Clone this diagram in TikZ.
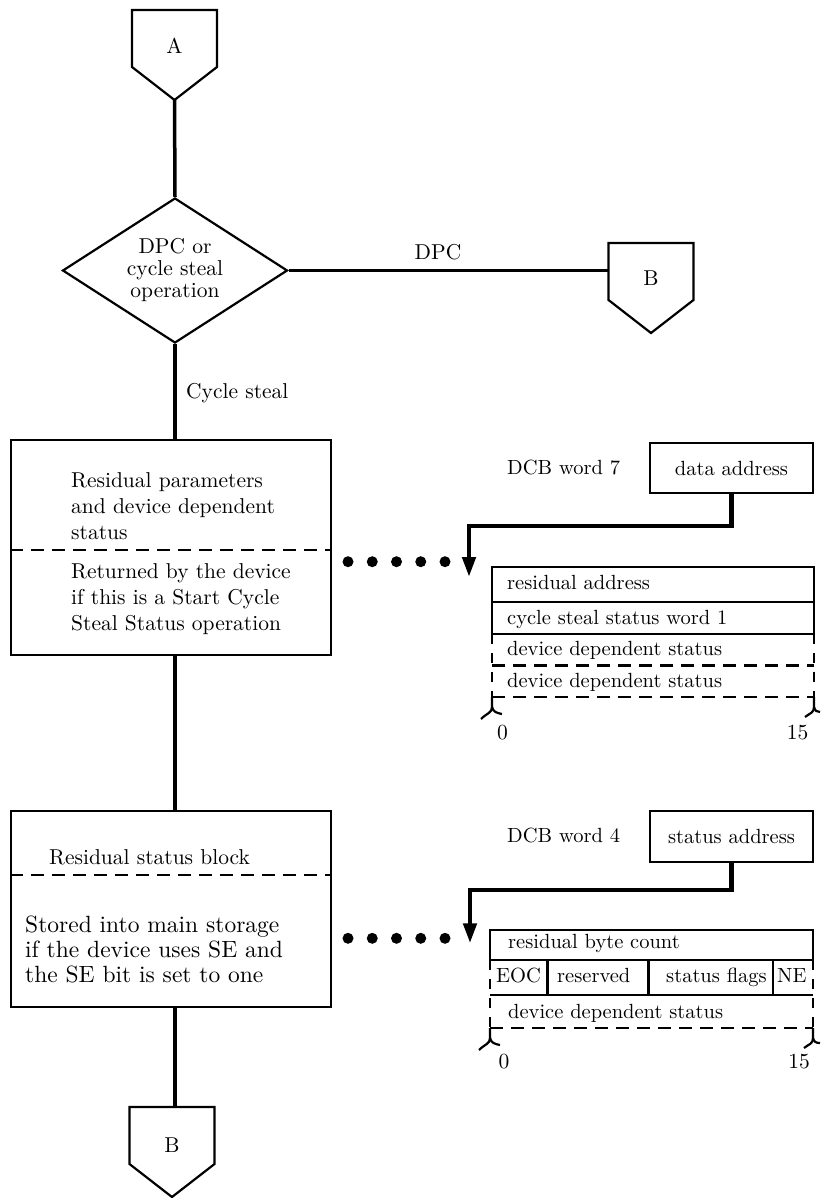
\documentclass[tikz,border=0pt]{standalone}
\usepackage{fontspec}
\setmainfont{lmroman10-regular.otf}
\usetikzlibrary{shapes.geometric,arrows.meta}
\tikzset{
  every node/.style={font=\fontsize{21.5}{25}\selectfont, inner sep=0pt},
  txt/.style={anchor=base west},
  ctxt/.style={anchor=base},
  tbl/.style={anchor=base west, font=\fontsize{20.5}{25}\selectfont},
  big/.style={anchor=base west, font=\fontsize{23.5}{25}\selectfont},
  boxline/.style={line width=2.2pt},
  flow/.style={line width=3.5pt},
  ptr/.style={line width=4.5pt, line join=miter, -{Triangle[length=20pt,width=13pt]}},
  dsh/.style={line width=2.2pt, dash pattern=on 13pt off 8pt},
  vdsh/.style={line width=2.2pt, dash pattern=on 10pt off 9pt},
  dotrow/.style={line width=11pt, line cap=round, dash pattern=on 0pt off 24.25pt},
  offpage/.pic={\draw[line width=2.2pt, line join=miter] (-42.5,0) -- (42.5,0) -- (42.5,57) -- (0,90) -- (-42.5,57) -- cycle;},
}
\begin{document}
\begin{tikzpicture}[x=1pt,y=-1pt]
\useasboundingbox (0,0) rectangle (821,1198);

% ---- off-page connector A
\pic at (174.5,10) {offpage};
\node[ctxt] (A) at (174.5,54) {A};
\coordinate (Atip) at (174.5,100);

% ---- decision
\node[draw, boxline, diamond, aspect=1.55, minimum width=225pt, minimum height=145pt,
      align=center, font=\fontsize{21.5}{22}\selectfont] (dec) at (175,270.5)
      {DPC or\\cycle steal\\operation};
\draw[flow] (Atip) -- (dec.north);

% ---- off-page connector B (right)
\pic at (651,243) {offpage};
\node[ctxt] (B1) at (651,285) {B};
\coordinate (B1in) at (608.5,270.5);
\draw[flow] (dec.east) -- (B1in);
\node[ctxt] (dpc) at (438,259) {DPC};

% ---- box 1
\node[draw, boxline, minimum width=320pt, minimum height=215pt] (box1) at (171,547.5) {};
\draw[flow] (dec.south) -- (dec.south |- box1.north);
\node[txt] (cs) at (186,398) {Cycle steal};
\draw[dsh] (box1.west |- 0,550) -- (box1.east |- 0,550);
\node[txt] (t1a) at (71,487) {Residual parameters};
\node[txt] (t1b) at (71,513) {and device dependent};
\node[txt] (t1c) at (71,539) {status};
\node[txt] (t1d) at (71,578) {Returned by the device};
\node[txt] (t1e) at (71,604) {if this is a Start Cycle};
\node[txt] (t1f) at (71,630) {Steal Status operation};

% ---- box 2
\node[draw, boxline, minimum width=320pt, minimum height=196pt] (box2) at (171,909) {};
\draw[flow] (dec.south |- box1.south) -- (dec.south |- box2.north);
\draw[dsh] (box2.west |- 0,875) -- (box2.east |- 0,875);
\node[txt] (t2a) at (49,864) {Residual status block};
\node[big] (t2b) at (25,932) {Stored into main storage};
\node[big] (t2c) at (25,957) {if the device uses SE and};
\node[big] (t2d) at (25,982) {the SE bit is set to one};

% ---- off-page connector B (bottom)
\pic at (172,1107) {offpage};
\node[ctxt] (B2) at (172,1152.5) {B};
\coordinate (B2top) at (175,1107);
\draw[flow] (dec.south |- box2.south) -- (B2top);

% ---- DCB word 7
\node[tbl] (dcb7) at (507,474) {DCB word 7};
\node[draw, boxline, minimum width=163pt, minimum height=50pt, font=\fontsize{20.5}{25}\selectfont] (daddr) at (731.5,468) {data address};
\coordinate (turn1) at (469,526);
\coordinate (tip1) at (469,577);
\draw[ptr] (daddr.south) |- (turn1) -- (tip1);
\coordinate (dots1) at (348,561.7);
\draw[dotrow] (dots1) -- ++(98,0);

% table 1
\draw[boxline] (492,634) -- (492,567) -- (814,567) -- (814,634);
\draw[boxline] (492,601.7) -- (814,601.7);
\draw[boxline] (492,634) -- (814,634);
\draw[dsh] (492,665.5) -- (814,665.5);
\draw[dsh] (492,697) -- (814,697);
\draw[vdsh] (492,634) -- (492,697);
\draw[vdsh] (814,634) -- (814,697);
\draw[boxline] (492,697) -- (492,707) .. controls (492,713) and (487,713) .. (481,719);
\draw[boxline] (492,707) .. controls (493,712) and (497,713) .. (502,714);
\draw[boxline] (814,697) -- (814,707) .. controls (814,713) and (810,713) .. (805,717);
\draw[boxline] (814,707) .. controls (815,711) and (817,712) .. (820,712);
\node[tbl] (r1a) at (507,589) {residual address};
\node[tbl] (r1b) at (507,624) {cycle steal status word 1};
\node[tbl] (r1c) at (507,655) {device dependent status};
\node[tbl] (r1d) at (507,687) {device dependent status};
\node[ctxt] (z1) at (502.5,739) {0};
\node[ctxt] (f1) at (797.5,739) {15};

% ---- DCB word 4
\node[tbl] (dcb4) at (507,842) {DCB word 4};
\node[draw, boxline, minimum width=163pt, minimum height=51pt, font=\fontsize{20.5}{25}\selectfont] (saddr) at (731.5,836.5) {status address};
\coordinate (turn2) at (470,890);
\coordinate (tip2) at (470,943.3);
\draw[ptr] (saddr.south) |- (turn2) -- (tip2);
\coordinate (dots2) at (348,938.3);
\draw[dotrow] (dots2) -- ++(98,0);

% table 2
\draw[boxline] (490,960) -- (490,930) -- (813,930) -- (813,960);
\draw[boxline] (490,960) -- (813,960);
\draw[boxline] (490,995) -- (813,995);
\draw[dsh] (490,1028) -- (813,1028);
\draw[vdsh] (490,960) -- (490,1028);
\draw[vdsh] (813,960) -- (813,1028);
\draw[boxline] (547.5,960) -- (547.5,995);
\draw[boxline] (648.5,960) -- (648.5,995);
\draw[boxline] (773.3,960) -- (773.3,995);
\draw[boxline] (490,1028) -- (490,1038) .. controls (490,1044) and (485,1044) .. (479,1050);
\draw[boxline] (490,1038) .. controls (491,1043) and (495,1044) .. (500,1045);
\draw[boxline] (813,1028) -- (813,1038) .. controls (813,1044) and (809,1044) .. (804,1048);
\draw[boxline] (813,1038) .. controls (814,1042) and (816,1043) .. (820,1043);
\node[tbl] (r2a) at (508,948.5) {residual byte count};
\node[tbl] (r2b) at (496,982) {EOC};
\node[tbl] (r2c) at (557,982) {reserved};
\node[tbl] (r2d) at (666,982) {status flags};
\node[tbl] (r2e) at (777,982) {NE};
\node[tbl] (r2f) at (508,1018) {device dependent status};
\node[ctxt] (z2) at (504,1068) {0};
\node[ctxt] (f2) at (799,1068) {15};
\end{tikzpicture}
\end{document}
